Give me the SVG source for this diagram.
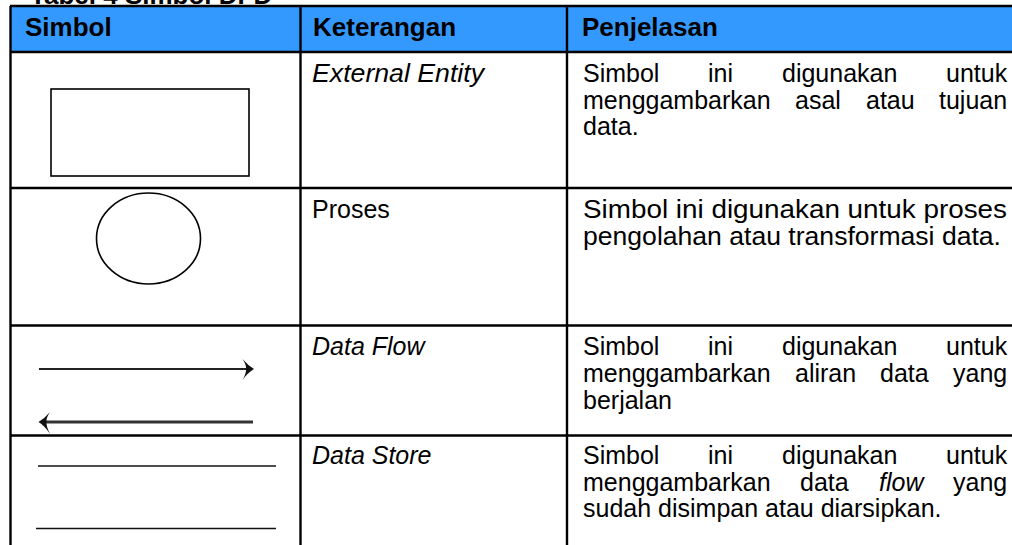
<svg xmlns="http://www.w3.org/2000/svg" width="1012" height="545" viewBox="0 0 1012 545">
  <style>
    .grid { stroke: #000; stroke-width: 2.4; fill: none; }
    .hd { font-family: "Liberation Sans", Arial, sans-serif; font-size: 26px; font-weight: bold; fill: #000; }
    .tx { font-family: "Liberation Sans", Arial, sans-serif; font-size: 25px; fill: #000; }
    .it { font-style: italic; }
    .sym { stroke: #000; stroke-width: 1.6; fill: #fff; }
    .store { stroke: #111; stroke-width: 1.4; }
  </style>

  <rect width="1012" height="545" fill="#fff"/>

  <!-- caption, partly above the page edge -->
  <text class="hd" x="30" y="4">Tabel 4 Simbol DFD</text>

  <!-- header band -->
  <g id="header">
    <rect x="10" y="6" width="1002" height="46" fill="#3399ff"/>
    <text class="hd" x="25" y="36">Simbol</text>
    <text class="hd" x="313" y="36">Keterangan</text>
    <text class="hd" x="582" y="36">Penjelasan</text>
  </g>

  <!-- table rules -->
  <g id="grid" class="grid">
    <line x1="10" y1="6" x2="1012" y2="6"/>
    <line x1="10" y1="52" x2="1012" y2="52"/>
    <line x1="10" y1="188" x2="1012" y2="188"/>
    <line x1="10" y1="325.5" x2="1012" y2="325.5"/>
    <line x1="10" y1="435.5" x2="1012" y2="435.5"/>
    <line x1="10.5" y1="6" x2="10.5" y2="545"/>
    <line x1="300.5" y1="6" x2="300.5" y2="545"/>
    <line x1="567" y1="6" x2="567" y2="545"/>
  </g>

  <!-- row: external entity -->
  <g id="row-external-entity">
    <rect class="sym" x="51" y="89" width="198" height="87"/>
    <text class="tx it" x="312" y="82" textLength="172" lengthAdjust="spacingAndGlyphs">External Entity</text>
    <text class="tx" y="82"><tspan x="583">Simbol</tspan><tspan x="708">ini</tspan><tspan x="782">digunakan</tspan><tspan x="946">untuk</tspan></text>
    <text class="tx" y="108.5"><tspan x="583">menggambarkan</tspan><tspan x="795">asal</tspan><tspan x="866">atau</tspan><tspan x="939">tujuan</tspan></text>
    <text class="tx" x="583" y="135">data.</text>
  </g>

  <!-- row: process -->
  <g id="row-proses">
    <ellipse class="sym" cx="148.5" cy="238.5" rx="52" ry="45.5"/>
    <text class="tx" x="312" y="218">Proses</text>
    <text class="tx" x="583" y="218" textLength="424" lengthAdjust="spacingAndGlyphs">Simbol ini digunakan untuk proses</text>
    <text class="tx" x="583" y="245" textLength="418" lengthAdjust="spacingAndGlyphs">pengolahan atau transformasi data.</text>
  </g>

  <!-- row: data flow -->
  <g id="row-data-flow">
    <g id="flow-arrows">
      <line x1="39" y1="369" x2="248" y2="369" stroke="#222" stroke-width="2"/>
      <path d="M242.5,359 Q248,365.5 254,369 Q248,372.5 242.5,380 Q246.5,373 246,369 Q246.5,365 242.5,359 Z" fill="#111"/>
      <line x1="253" y1="422" x2="45" y2="422" stroke="#333" stroke-width="3"/>
      <path d="M50,412 Q44.5,418.5 38.5,422 Q44.5,425.5 50,434 Q46,426 46.5,422 Q46,418 50,412 Z" fill="#111"/>
    </g>
    <text class="tx it" x="312" y="355">Data Flow</text>
    <text class="tx" y="355"><tspan x="583">Simbol</tspan><tspan x="708">ini</tspan><tspan x="782">digunakan</tspan><tspan x="946">untuk</tspan></text>
    <text class="tx" y="381.5"><tspan x="583">menggambarkan</tspan><tspan x="795">aliran</tspan><tspan x="880">data</tspan><tspan x="953">yang</tspan></text>
    <text class="tx" x="583" y="408.5">berjalan</text>
  </g>

  <!-- row: data store -->
  <g id="row-data-store">
    <line class="store" x1="38" y1="466" x2="276" y2="466"/>
    <line class="store" x1="36" y1="528.5" x2="276" y2="528.5"/>
    <text class="tx it" x="312" y="464">Data Store</text>
    <text class="tx" y="464"><tspan x="583">Simbol</tspan><tspan x="708">ini</tspan><tspan x="782">digunakan</tspan><tspan x="946">untuk</tspan></text>
    <text class="tx" y="490.5"><tspan x="583">menggambarkan</tspan><tspan x="800">data</tspan><tspan x="879" font-style="italic">flow</tspan><tspan x="953">yang</tspan></text>
    <text class="tx" x="583" y="517">sudah disimpan atau diarsipkan.</text>
  </g>
</svg>
